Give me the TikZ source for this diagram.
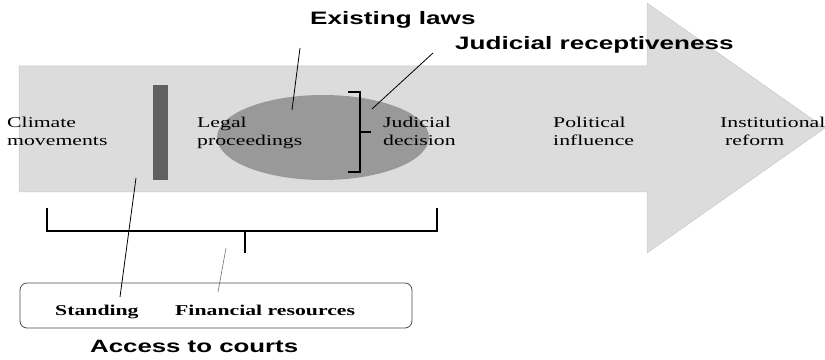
\documentclass[tikz,border=0pt]{standalone}
\usepackage{fontspec}
\setmainfont[FakeStretch=1.45]{Liberation Serif}
\newfontfamily\gothicfont[FakeStretch=1.45]{Liberation Sans}
\usetikzlibrary{shapes.geometric}
\definecolor{arrowgray}{HTML}{DCDCDC}
\definecolor{ovalgray}{HTML}{999999}
\definecolor{bargray}{HTML}{606060}

\begin{document}
\begin{tikzpicture}[x=1pt, y=1pt,
    stage/.style={anchor=north west, inner sep=0pt, align=left, font=\fontsize{15}{18}\selectfont},
    factor/.style={anchor=base west, inner sep=0pt, font=\gothicfont\bfseries\fontsize{18}{20}\selectfont},
    item/.style={anchor=base west, inner sep=0pt, font=\bfseries\fontsize{15}{18}\selectfont},
    brace/.style={line width=1.5pt},
    leader/.style={line width=0.8pt}]
    \useasboundingbox (0,0) rectangle (825,359);

    % draw arrow
    \fill[arrowgray, draw=arrowgray!92!black, line width=0.5pt] (19,167) -- (19,293) -- (647,293) -- (647,356) -- (825,231) -- (647,106) -- (647,167) -- cycle;

    % draw oval and barrier
    \node[ellipse, fill=ovalgray, minimum width=212pt, minimum height=85pt, inner sep=0pt] (oval) at (323,221.5) {};
    \node[fill=bargray, minimum width=15pt, minimum height=95pt, inner sep=0pt] (barrier) at (160.5,226.5) {};

    % draw bracket at decision
    \draw[brace] (348,267) -| (360,187) -- (348,187);
    \draw[brace] (360,227) -- (371,227);

    % draw stages
    \node[stage] (climate) at (7,242.25) {Climate\\movements};
    \node[stage] (legal) at (197,242.25) {Legal\\proceedings};
    \node[stage] (decision) at (383,242.25) {Judicial\\decision};
    \node[stage] (influence) at (553,242.25) {Political\\influence};
    \node[stage] (reform) at (720,242.25) {Institutional\\\hspace*{5pt}reform};

    % draw factors
    \node[factor] (laws) at (310,334) {Existing laws};
    \node[factor] (receptiveness) at (455,309) {Judicial receptiveness};
    \node[factor, font=\gothicfont\bfseries\fontsize{17.8}{20}\selectfont] (courts) at (90,6) {Access to courts};

    % draw access box
    \node[draw=black!70, rounded corners=7pt, minimum width=392pt, minimum height=45pt, inner sep=0pt, line width=0.8pt] (access) at (216,53.5) {};
    \node[item] (standing) at (55,44) {Standing};
    \node[item] (finance) at (175,44) {Financial resources};

    % draw bracket under the stages
    \coordinate (span left) at (47,151);
    \coordinate (span right) at (437,151);
    \coordinate (span mid) at (245,128);
    \coordinate (span tick) at (245,106);
    \draw[brace] (span left) |- (span mid) -| (span right);
    \draw[brace] (span mid) -- (span tick);

    % draw leaders
    \coordinate (laws top) at (300,311);
    \coordinate (laws end) at (292,249);
    \coordinate (rec top) at (433,306);
    \coordinate (rec end) at (372,250);
    \coordinate (stand top) at (136,181);
    \coordinate (stand end) at (120,62);
    \coordinate (fin top) at (226,111);
    \coordinate (fin end) at (218,67);
    \draw[leader] (laws top) -- (laws end);
    \draw[leader] (rec top) -- (rec end);
    \draw[leader] (stand top) -- (stand end);
    \draw[leader, black!55, line width=0.6pt] (fin top) -- (fin end);
\end{tikzpicture}
\end{document}
